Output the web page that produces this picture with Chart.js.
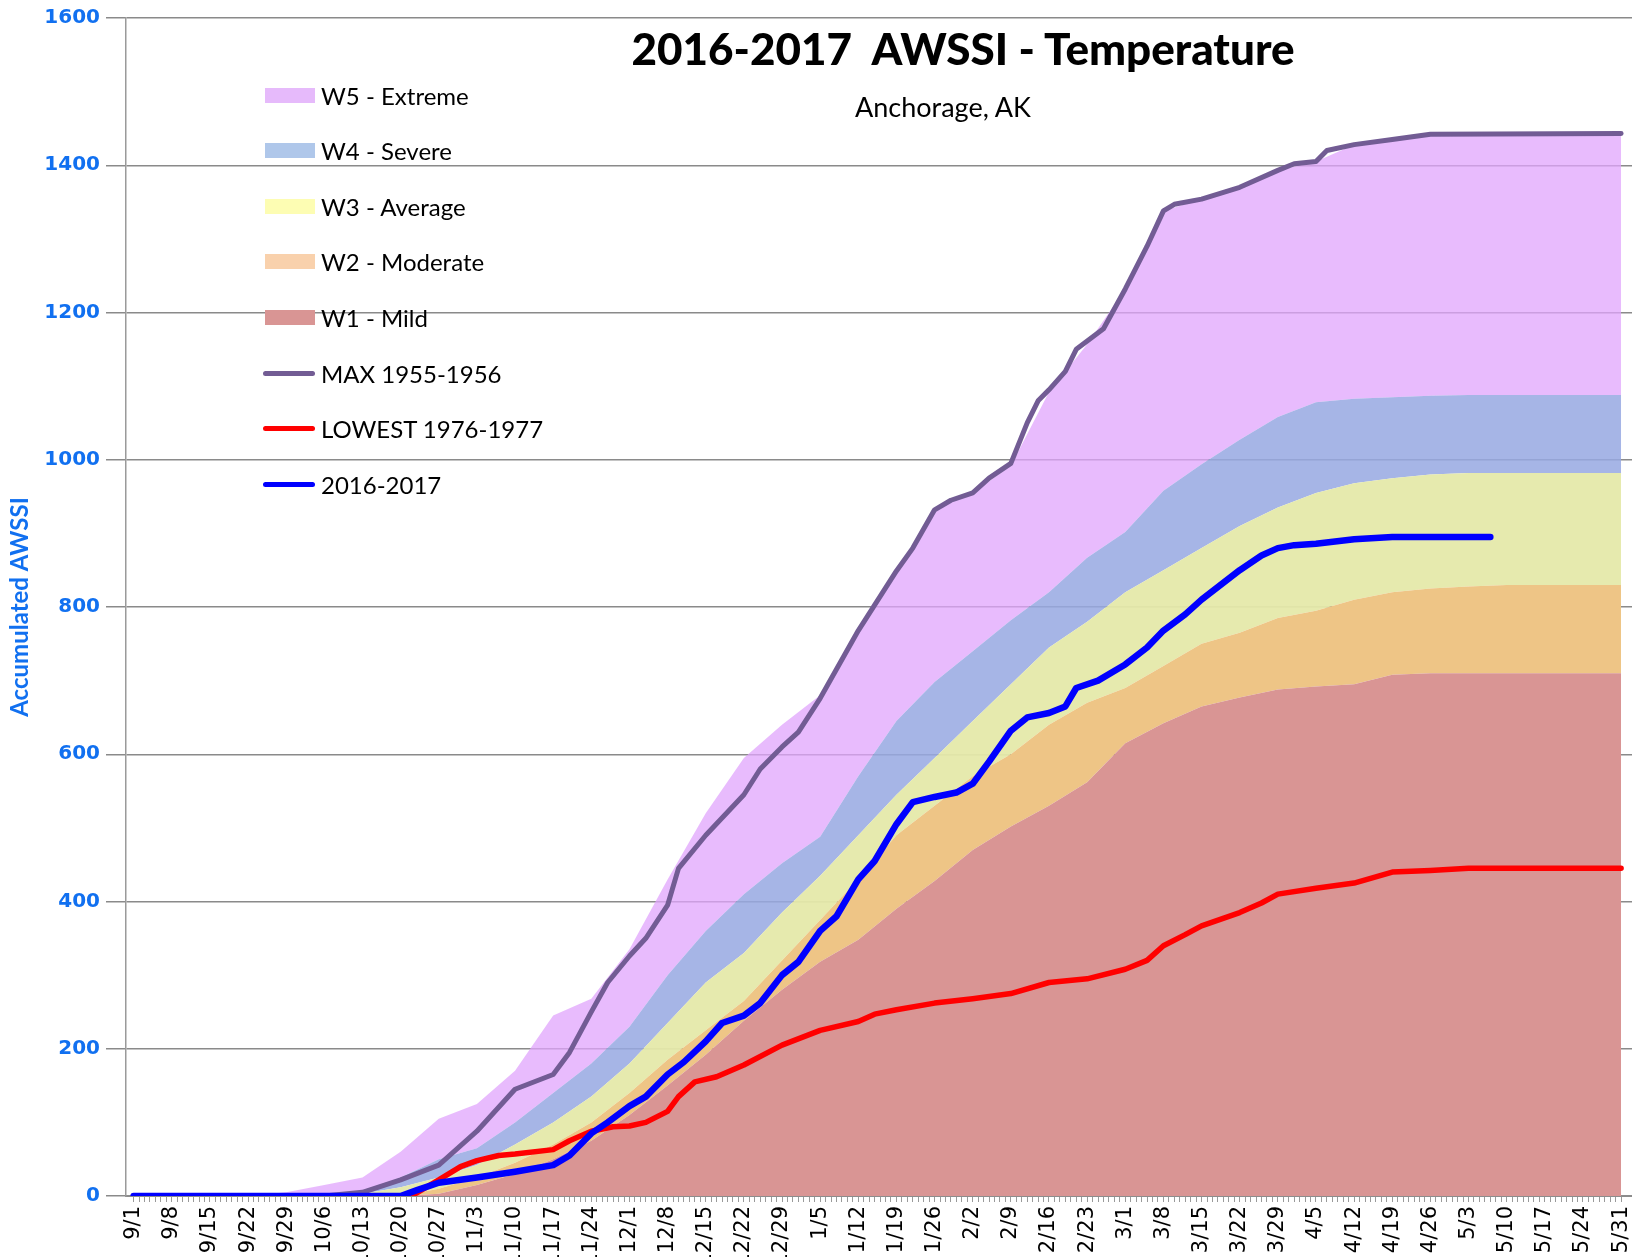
<!DOCTYPE html>
<html>
<head>
<meta charset="utf-8">
<title>2016-2017 AWSSI - Temperature</title>
<script src="https://cdn.jsdelivr.net/npm/chart.js@4.4.1/dist/chart.umd.min.js"></script>
<style>
  html, body { margin: 0; padding: 0; background: #fff; }
  #wrap { position: relative; width: 1632px; height: 1257px; overflow: hidden; }
  #chart { position: absolute; left: 0; top: 0; }
  .title { position: absolute; transform: translateX(-50%); white-space: nowrap; font-family: Lato, "Open Sans", sans-serif; color: #000; }
  #title { left: 963px; top: 19px; font-size: 44px; font-weight: 900; line-height: 58px; }
  #subtitle { left: 943px; top: 91px; font-size: 27px; line-height: 32px; }
  #legend { position: absolute; left: 263px; top: 0; font-family: Lato, "Open Sans", sans-serif; font-size: 24px; color: #000; }
  .row { position: absolute; left: 0; height: 30px; display: flex; align-items: center; white-space: nowrap; }
  .swatch { width: 50px; height: 15px; margin-left: 2px; margin-right: 6px; }
  .stroke { width: 52px; height: 5px; border-radius: 3px; margin-right: 6px; }
</style>
</head>
<body>
<div id="wrap">
  <canvas id="chart" width="1632" height="1257"></canvas>
  <div id="title" class="title">2016-2017&nbsp; AWSSI - Temperature</div>
  <div id="subtitle" class="title">Anchorage, AK</div>
  <div id="legend"></div>
</div>
<script>
"use strict";

// tick labels, one per week from 9/1 to 5/31 (day 0 .. 273)
const weekLabels = ['9/1', '9/8', '9/15', '9/22', '9/29', '10/6', '10/13', '10/20', '10/27', '11/3',
    '11/10', '11/17', '11/24', '12/1', '12/8', '12/15', '12/22', '12/29', '1/5', '1/12',
    '1/19', '1/26', '2/2', '2/9', '2/16', '2/23', '3/1', '3/8', '3/15', '3/22',
    '3/29', '4/5', '4/12', '4/19', '4/26', '5/3', '5/10', '5/17', '5/24', '5/31'];
const weekDays = weekLabels.map((_, i) => i * 7);

// upper edge of each AWSSI category band, read weekly
const mildTop = [0, 0, 0, 0, 0, 0, 0, 0, 3, 15, 30, 50, 75, 110, 150, 192, 238, 280, 318, 348,
    390, 428, 470, 502, 530, 562, 615, 642, 665, 677, 688, 692, 695, 708, 710, 710, 710, 710, 710, 710];
const moderateTop = [0, 0, 0, 0, 0, 0, 0, 0, 10, 25, 45, 70, 100, 140, 185, 225, 265, 320, 375, 430,
    490, 530, 570, 600, 640, 670, 690, 720, 750, 765, 785, 795, 810, 820, 825, 828, 830, 830, 830, 830];
const averageTop = [0, 0, 0, 0, 0, 0, 3, 12, 25, 42, 70, 100, 135, 180, 235, 290, 330, 385, 435, 490,
    545, 595, 645, 695, 745, 780, 820, 850, 880, 910, 935, 955, 968, 975, 980, 982, 982, 982, 982, 982];
const severeTop = [0, 0, 0, 0, 0, 0, 5, 25, 50, 65, 100, 140, 180, 230, 300, 360, 410, 452, 488, 570,
    645, 698, 740, 782, 820, 867, 902, 958, 994, 1027, 1058, 1078, 1083, 1085, 1087, 1088, 1088, 1088, 1088, 1088];
const extremeTop = [0, 0, 0, 0, 5, 15, 25, 60, 105, 125, 170, 245, 268, 335, 430, 520, 595, 640, 680, 770,
    850, 932, 955, 992, 1092, 1157, 1232, 1338, 1354, 1370, 1393, 1405, 1428, 1435, 1442, 1443, 1443, 1443, 1443, 1443];

// season lines, day index (0 = 9/1) and accumulated value
const maxDays = [0, 35, 42, 49, 56, 63, 70, 77, 80, 84, 87, 91, 94, 98, 100, 105, 112, 115, 119, 122,
    126, 133, 140, 143, 147, 150, 154, 157, 161, 164, 166, 168, 171, 173, 178, 182, 186, 189, 191, 196,
    203, 210, 213, 217, 219, 224, 231, 238, 273];
const maxValues = [0, 0, 5, 22, 42, 88, 145, 165, 195, 250, 290, 326, 350, 395, 445, 490, 545, 580, 610, 630,
    676, 768, 849, 880, 932, 945, 955, 975, 995, 1050, 1080, 1095, 1120, 1150, 1178, 1232, 1290, 1338, 1347, 1354,
    1370, 1393, 1402, 1405, 1420, 1428, 1435, 1442, 1443];

const lowestDays = [0, 51, 56, 60, 63, 67, 70, 77, 80, 84, 88, 91, 94, 98, 100, 103, 107, 112, 119, 126,
    133, 136, 140, 147, 154, 161, 168, 175, 182, 186, 189, 193, 196, 203, 207, 210, 217, 224, 231, 238,
    245, 273];
const lowestValues = [0, 0, 22, 40, 48, 55, 57, 63, 75, 88, 94, 95, 100, 115, 135, 155, 162, 178, 205, 225,
    237, 247, 253, 262, 268, 275, 290, 295, 308, 320, 340, 355, 367, 385, 398, 410, 418, 425, 440, 442,
    445, 445];

const seasonDays = [0, 49, 52, 56, 63, 70, 77, 80, 84, 87, 91, 94, 98, 101, 105, 108, 112, 115, 119, 122,
    126, 129, 133, 136, 140, 143, 147, 151, 154, 157, 161, 164, 168, 171, 173, 177, 182, 186, 189, 193,
    196, 203, 207, 210, 213, 217, 224, 231, 249];
const seasonValues = [0, 0, 8, 18, 25, 33, 42, 55, 85, 100, 122, 135, 165, 182, 210, 235, 245, 262, 300, 318,
    360, 380, 430, 455, 505, 535, 542, 548, 560, 590, 632, 650, 656, 665, 690, 700, 722, 745, 768, 790,
    810, 850, 870, 880, 884, 886, 892, 895, 895];

const dayTicks = Array.from({ length: 274 }, (_, i) => i);

renderChart();

/**
 * Turns a day array and a value array into {x, y} points
 */
function toPoints(days, values) {
    return days.map((d, i) => ({ x: d, y: values[i] }));
}

function band(label, values, fill, color, key) {
    return {
        label: label,
        data: toPoints(weekDays, values),
        fill: fill,
        backgroundColor: color,
        borderWidth: 0,
        pointRadius: 0,
        order: 3,
        legendKey: key,
        legendType: 'box'
    };
}

function line(label, days, values, color, width, order) {
    return {
        label: label,
        data: toPoints(days, values),
        fill: false,
        borderColor: color,
        borderWidth: width,
        borderCapStyle: 'round',
        borderJoinStyle: 'round',
        pointRadius: 0,
        order: order,
        legendKey: color,
        legendType: 'line'
    };
}

function renderChart() {
    const datasets = [
        band('W1 - Mild', mildTop, 'origin', 'rgb(217,149,148)', '#D99594'),
        band('W2 - Moderate', moderateTop, '-1', 'rgb(238,197,134)', '#F9D1AC'),
        band('W3 - Average', averageTop, '-1', 'rgba(229,233,170,0.95)', '#FDFDB3'),
        band('W4 - Severe', severeTop, '-1', 'rgba(151,168,226,0.85)', '#AFC7EA'),
        band('W5 - Extreme', extremeTop, '-1', 'rgba(224,164,252,0.75)', '#E6BAFB'),
        line('MAX 1955-1956', maxDays, maxValues, '#725C94', 5, 2),
        line('LOWEST 1976-1977', lowestDays, lowestValues, '#FF0000', 5.5, 1),
        line('2016-2017', seasonDays, seasonValues, '#0000FF', 6.5, 0)
    ];

    const blue = '#1170F0';

    new Chart(document.getElementById('chart'), {
        type: 'line',
        data: { datasets: datasets },
        options: {
            responsive: false,
            animation: false,
            layout: { padding: { top: 17, right: 0, bottom: 0, left: 0 } },
            plugins: {
                legend: { display: false },
                tooltip: { enabled: false }
            },
            scales: {
                x: {
                    type: 'linear',
                    min: -1.4,
                    max: 275,
                    afterBuildTicks: (scale) => { scale.ticks = dayTicks.map(v => ({ value: v })); },
                    afterFit: (scale) => {
                        scale.height = 61;
                        scale.paddingLeft = 0;
                        scale.paddingRight = 0;
                    },
                    grid: { drawOnChartArea: false, tickLength: 6, color: '#9a9a9a', lineWidth: 1 },
                    border: { color: '#8c8c8c', width: 2 },
                    ticks: {
                        autoSkip: false,
                        minRotation: 90,
                        maxRotation: 90,
                        padding: 4,
                        color: '#000',
                        font: { family: 'DejaVu Sans', size: 21 },
                        callback: (v) => (v % 7 === 0 ? weekLabels[v / 7] : '')
                    }
                },
                y: {
                    min: 0,
                    max: 1600,
                    afterFit: (scale) => { scale.width = 126; },
                    grid: { color: '#8a8a8a', lineWidth: 1.5, tickLength: 20 },
                    border: { color: '#9a9a9a', width: 1.5 },
                    ticks: {
                        stepSize: 200,
                        padding: 6,
                        color: blue,
                        font: { family: 'DejaVu Sans', size: 20, weight: 'bold' },
                        callback: (v) => String(v)
                    },
                    title: {
                        display: true,
                        text: 'Accumulated AWSSI',
                        color: blue,
                        font: { family: 'Lato', size: 24, weight: 'bold' },
                        padding: { top: 6, bottom: 0 }
                    }
                }
            }
        }
    });

    // legend inside the plot, top to bottom: bands W5..W1, then the lines
    const legend = document.getElementById('legend');
    const legendOrder = [4, 3, 2, 1, 0, 5, 6, 7];
    legendOrder.forEach((idx, row) => {
        const ds = datasets[idx];
        const item = document.createElement('div');
        item.className = 'row';
        item.style.top = (80 + row * 55.6) + 'px';
        const key = document.createElement('span');
        key.className = ds.legendType === 'box' ? 'swatch' : 'stroke';
        key.style.background = ds.legendKey;
        const text = document.createElement('span');
        text.textContent = ds.label;
        item.appendChild(key);
        item.appendChild(text);
        legend.appendChild(item);
    });
}
</script>
</body>
</html>
